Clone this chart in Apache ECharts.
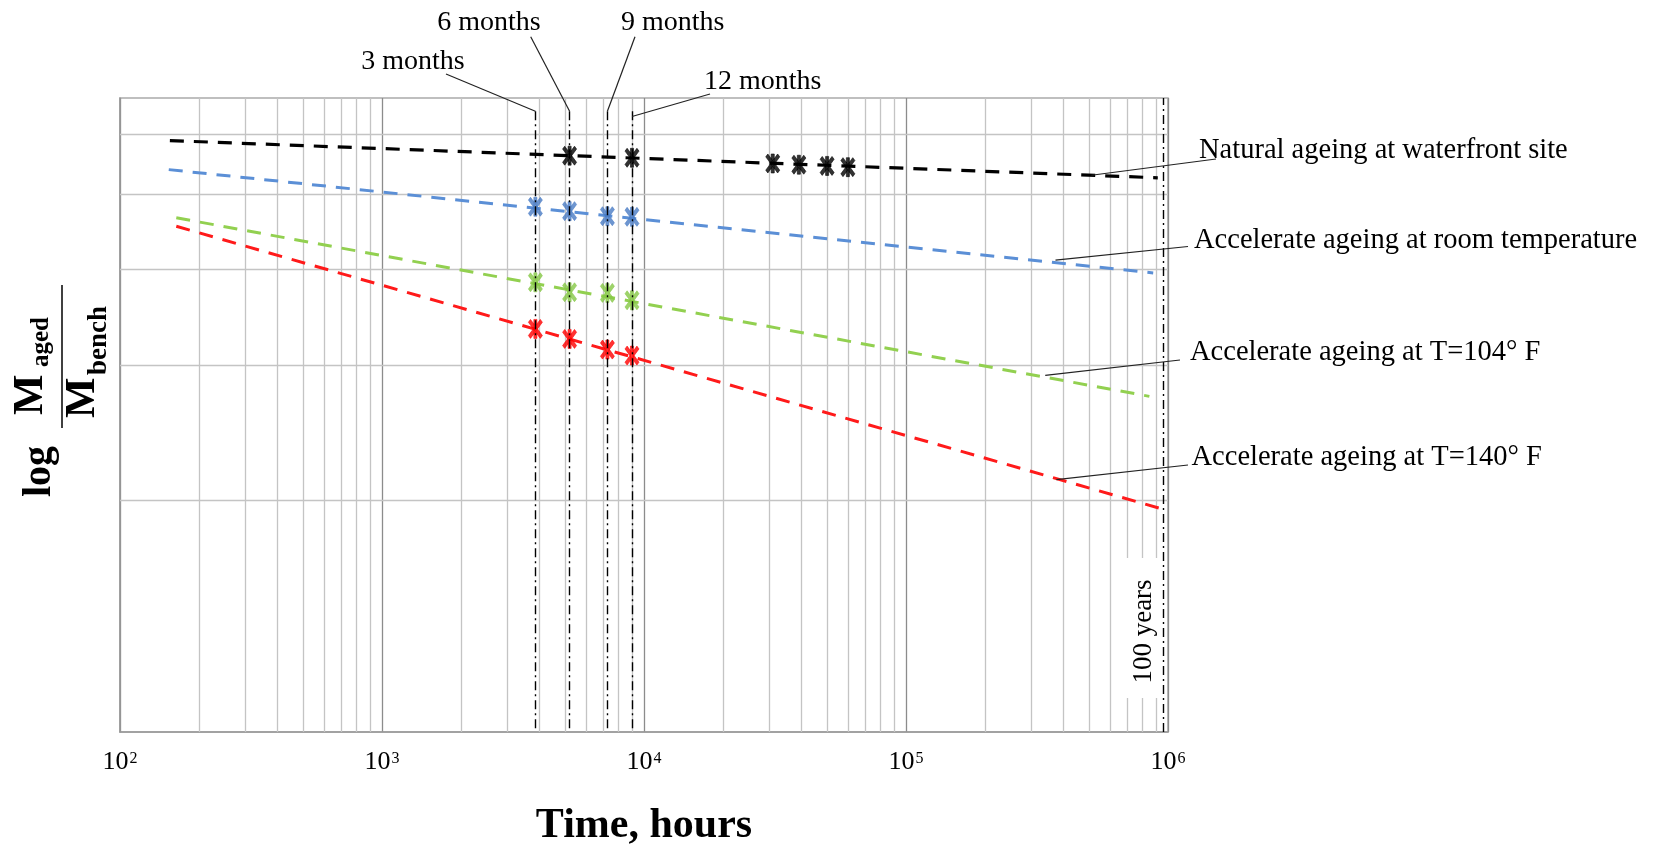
<!DOCTYPE html>
<html>
<head>
<meta charset="utf-8">
<title>Ageing curves</title>
<script src="https://cdn.jsdelivr.net/npm/echarts@6/dist/echarts.min.js"></script>
<style>
  html, body { margin: 0; padding: 0; background: #fff; }
  #chart { width: 1658px; height: 844px; }
</style>
</head>
<body>
<div id="chart"></div>
<script>
// x = time in hours (log), y = M_aged/M_bench on a log scale (no numbers in the figure)
var lineNatural = [[155, 5.88], [9.14e5, 5.26]];
var lineRoom    = [[153.5, 5.39], [8.78e5, 3.956]];
var line104     = [[164, 4.666], [8.49e5, 2.733]];
var line140     = [[164, 4.549], [9.94e5, 1.942]];

var monthX = [3850, 5200, 7250, 9000];
var monthNames = ['3 months', '6 months', '9 months', '12 months'];
var monthTopY = [6.42, 6.42, 6.42, 6.42];
var monthLeaderY = [6.42, 6.42, 6.42, 6.32];
var hundredYears = 9.6e5;

var natX = [5200, 9000, 31000, 39000, 50000, 60000];
var natY = [5.62, 5.585, 5.49, 5.47, 5.45, 5.43];
var roomY = [4.823, 4.760, 4.688, 4.679];
var t104Y = [3.846, 3.733, 3.726, 3.644];
var t140Y = [3.345, 3.246, 3.144, 3.088];

var seriesNames = ['Natural ageing at waterfront site', 'Accelerate ageing at room temperature',
                   'Accelerate ageing at T=104° F', 'Accelerate ageing at T=140° F'];
var leaderFrom = [[5.1e5, 5.30], [3.72e5, 4.11], [3.40e5, 2.91], [3.75e5, 2.13]];

var xDecades = [100, 1000, 10000, 100000];
var yGrid = [2, 3, 4, 5, 6];

// where the text annotations sit (pixels)
var labelLayout = [
  {x: 1199, y: 151, ex: 1216, ey: 159},
  {x: 1194, y: 241, ex: 1188, ey: 246.5},
  {x: 1190, y: 353, ex: 1180, ey: 360},
  {x: 1191.5, y: 458, ex: 1188, ey: 465}
];
var monthLayout = [
  {x: 413, y: 62, ex: 446, ey: 74},
  {x: 489, y: 22.5, ex: 530.7, ey: 36.7},
  {x: 672.7, y: 22.5, ex: 635, ey: 36.7},
  {x: 762.7, y: 81.5, ex: 710, ey: 94}
];

var serif = '"Liberation Serif", "Times New Roman", serif';
var starPath = 'path://M7.8,0L12.2,0L12.2,20L7.8,20Z M0,3L3,0L20,17L17,20Z M17,0L20,3L3,20L0,17Z';

var minorX = [];
xDecades.forEach(function (d) {
  for (var m = 2; m <= 9; m++) minorX.push(d * m);
});

function pairs(xs, ys) {
  return xs.map(function (x, i) { return [x, ys[i]]; });
}

function dashed(name, data, color, width) {
  return {
    name: name, type: 'line', data: data, symbol: 'none', z: 2, silent: true,
    lineStyle: { color: color, width: width, type: [14, 10] }
  };
}

function stars(data, color) {
  return {
    type: 'scatter', data: data, symbol: starPath, symbolSize: [14, 19], z: 3, silent: true,
    itemStyle: { color: color, borderColor: color, borderWidth: 0.7 }
  };
}

var gridLines = minorX.map(function (x) { return { xAxis: x }; })
  .concat(yGrid.map(function (y) { return { yAxis: y }; }));

var dashDot = monthX.map(function (x, i) {
  return [{ coord: [x, monthTopY[i]] }, { coord: [x, 1] }];
});
dashDot.push({ xAxis: hundredYears });

var leaders = leaderFrom.map(function (p, i) {
  return [{ coord: p }, { x: labelLayout[i].ex, y: labelLayout[i].ey }];
}).concat(monthX.map(function (x, i) {
  return [{ coord: [x, monthLeaderY[i]] }, { x: monthLayout[i].ex, y: monthLayout[i].ey }];
}));

var chart = echarts.init(document.getElementById('chart'));

chart.setOption({
  animation: false,
  backgroundColor: '#fff',
  grid: {
    left: 120, right: 490, top: 98, bottom: 112, outerBoundsMode: 'none', containLabel: false,
    show: true, borderColor: '#aaaaaa', borderWidth: 1.5, backgroundColor: 'transparent'
  },
  xAxis: {
    type: 'log', logBase: 10, min: 100, max: 1e6,
    name: 'Time, hours', nameLocation: 'middle', nameGap: 73,
    nameTextStyle: { fontFamily: serif, fontSize: 42, fontWeight: 'bold', color: '#000' },
    axisLine: { lineStyle: { color: '#999', width: 1.5 } },
    axisTick: { show: false },
    splitLine: { show: true, lineStyle: { color: '#8c8c8c', width: 1.3 } },
    axisLabel: {
      margin: 16,
      formatter: function (v) {
        return '{b|10}{s|' + Math.round(Math.log10(v)) + '}';
      },
      rich: {
        b: { fontFamily: serif, fontSize: 26, lineHeight: 28, color: '#000' },
        s: { fontFamily: serif, fontSize: 16, lineHeight: 16, verticalAlign: 'top', color: '#000', padding: [3, 0, 0, 1] }
      }
    }
  },
  yAxis: {
    type: 'log', logBase: 10, min: 1, max: 6.68,
    axisLine: { show: true, lineStyle: { color: '#999', width: 1.5 } },
    axisTick: { show: false },
    axisLabel: { show: false },
    splitLine: { show: false }
  },
  series: [
    {
      type: 'line', data: [], silent: true,
      markLine: {
        silent: true, symbol: ['none', 'none'], z: 1, label: { show: false },
        lineStyle: { color: '#c4c4c4', width: 1.3, type: 'solid' },
        data: gridLines
      }
    },
    dashed(seriesNames[0], lineNatural, '#000000', 3.2),
    dashed(seriesNames[1], lineRoom, '#5b8fd6', 3),
    dashed(seriesNames[2], line104, '#92d050', 3),
    dashed(seriesNames[3], line140, '#ff1a1a', 3),
    stars(pairs(natX, natY), '#000000'),
    stars(pairs(monthX, roomY), '#4a7cc4'),
    stars(pairs(monthX, t104Y), '#86c846'),
    stars(pairs(monthX, t140Y), '#ff0000'),
    {
      type: 'line', data: [], silent: true, clip: false,
      markLine: {
        silent: true, symbol: ['none', 'none'], z: 6, label: { show: false },
        lineStyle: { color: '#000', width: 1.4, type: [9, 4, 2, 4] },
        data: dashDot
      }
    },
    {
      type: 'line', data: [], silent: true, clip: false,
      markLine: {
        silent: true, symbol: ['none', 'none'], z: 6, label: { show: false },
        lineStyle: { color: '#222', width: 1.2, type: 'solid' },
        data: leaders
      }
    }
  ]
});

// annotations
var g = [];
seriesNames.forEach(function (t, i) {
  g.push({
    type: 'text', x: labelLayout[i].x, y: labelLayout[i].y, z: 20,
    style: { text: t, fontFamily: serif, fontSize: 28.5, fill: '#000', align: 'left', verticalAlign: 'middle' }
  });
});
monthNames.forEach(function (t, i) {
  g.push({
    type: 'text', x: monthLayout[i].x, y: monthLayout[i].y, z: 20,
    style: { text: t, fontFamily: serif, fontSize: 28, fill: '#000', align: 'center', verticalAlign: 'middle' }
  });
});

var p100 = chart.convertToPixel({ gridIndex: 0 }, [hundredYears, 1]);
g.push({
  type: 'rect', z: 15, silent: true,
  shape: { x: p100[0] - 41, y: 558, width: 37, height: 140 },
  style: { fill: '#fff' }
});
g.push({
  type: 'text', x: p100[0] - 19, y: 631.5, rotation: Math.PI / 2, z: 20,
  style: { text: '100 years', fontFamily: serif, fontSize: 27, fill: '#000', align: 'center', verticalAlign: 'middle' }
});

// y axis name: log (M_aged / M_bench), rotated
g.push({
  type: 'group', x: 62, y: 400, rotation: Math.PI / 2, z: 20,
  children: [
    { type: 'line', shape: { x1: -28, y1: 0, x2: 115, y2: 0 }, style: { stroke: '#000', lineWidth: 1.5 } },
    { type: 'text', x: -71.5, y: -22, style: { text: 'log', fontFamily: serif, fontWeight: 'bold', fontSize: 40, fill: '#000', align: 'center', verticalAlign: 'middle' } },
    { type: 'text', x: -15, y: -31, style: { text: 'M', fontFamily: serif, fontWeight: 'bold', fontSize: 43, fill: '#000', align: 'left', verticalAlign: 'middle' } },
    { type: 'text', x: 33, y: -20, style: { text: 'aged', fontFamily: serif, fontWeight: 'bold', fontSize: 25, fill: '#000', align: 'left', verticalAlign: 'middle' } },
    { type: 'text', x: -18, y: 20.5, style: { text: 'M', fontFamily: serif, fontWeight: 'bold', fontSize: 43, fill: '#000', align: 'left', verticalAlign: 'middle' } },
    { type: 'text', x: 25, y: 37, style: { text: 'bench', fontFamily: serif, fontWeight: 'bold', fontSize: 27, fill: '#000', align: 'left', verticalAlign: 'middle' } }
  ]
});

chart.setOption({ graphic: g });
window.onresize = function () { chart.resize(); };
</script>
</body>
</html>
